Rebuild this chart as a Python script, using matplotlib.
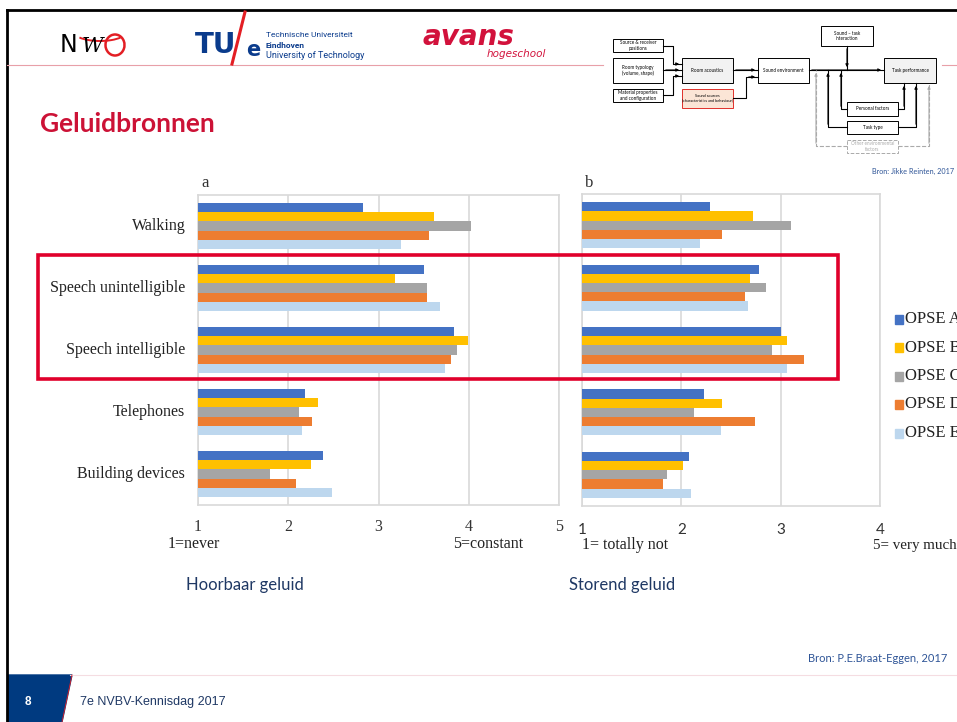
import matplotlib
matplotlib.use('Agg')
import matplotlib.pyplot as plt
from matplotlib.patches import Rectangle, Polygon, Arc
import numpy as np

W, H = 957, 722

# data
categories = ['Walking', 'Speech unintelligible', 'Speech intelligible',
              'Telephones', 'Building devices']
series = ['OPSE A', 'OPSE B', 'OPSE C', 'OPSE D', 'OPSE E']
colors = ['#4472C4', '#FFC000', '#A5A5A5', '#ED7D31', '#BDD7EE']

# a: hoorbaar geluid (1=never .. 5=constant)
hear_a = [2.83, 3.50, 3.84, 2.19, 2.38]
hear_b = [3.62, 3.18, 3.99, 2.33, 2.25]
hear_c = [4.03, 3.54, 3.87, 2.12, 1.80]
hear_d = [3.56, 3.54, 3.80, 2.26, 2.09]
hear_e = [3.25, 3.68, 3.74, 2.15, 2.49]

# b: storend geluid (1=totally not .. 5=very much)
dist_a = [2.29, 2.78, 3.00, 2.23, 2.08]
dist_b = [2.72, 2.69, 3.06, 2.41, 2.02]
dist_c = [3.10, 2.85, 2.91, 2.13, 1.86]
dist_d = [2.41, 2.64, 3.23, 2.74, 1.82]
dist_e = [2.19, 2.67, 3.06, 2.40, 2.10]

serif = 'Liberation Serif'
sans = 'Lato'
red = '#CC1236'
navy = '#1F3864'

fig = plt.figure(figsize=(W / 100, H / 100), dpi=100)

# overlay axes in pixel coordinates for the slide furniture (on top of charts)
bg = fig.add_axes([0, 0, 1, 1])
bg.set_xlim(0, W)
bg.set_ylim(H, 0)
bg.axis('off')
bg.set_zorder(10)


def px_axes(x0, y0, x1, y1):
    return fig.add_axes([x0 / W, 1 - y1 / H, (x1 - x0) / W, (y1 - y0) / H])


def bar_chart(ax, vals, xmax):
    y = np.arange(len(categories))
    bh = 0.147
    for i, v in enumerate(vals):
        ax.barh(y + (i - 2) * bh, np.array(v) - 1, left=1, height=bh,
                color=colors[i], edgecolor='none', zorder=3)
    ax.set_xlim(1, xmax)
    ax.set_ylim(len(categories) - 0.5, -0.5)
    ax.set_yticks([])
    ax.set_xticks(range(1, xmax + 1))
    ax.grid(axis='x', color='#D9D9D9', lw=1.2, zorder=0)
    for s in ax.spines.values():
        s.set_color('#D9D9D9')
        s.set_linewidth(1.2)
    ax.tick_params(length=0, pad=10)


axa = px_axes(198, 195, 559, 505)
bar_chart(axa, [hear_a, hear_b, hear_c, hear_d, hear_e], 5)
for lab in axa.get_xticklabels():
    lab.set_fontfamily(serif)
    lab.set_fontsize(11.5)
    lab.set_color('#333333')
for i, c in enumerate(categories):
    axa.text(-0.035, i, c, transform=axa.get_yaxis_transform(),
             ha='right', va='center', family=serif, fontsize=11.5, color='#222222')

axb = px_axes(582, 194, 880, 506)
bar_chart(axb, [dist_a, dist_b, dist_c, dist_d, dist_e], 4)
for lab in axb.get_xticklabels():
    lab.set_fontfamily(sans)
    lab.set_fontsize(11)
    lab.set_color('#333333')
axb.tick_params(pad=12)

# chart captions
bg.text(205, 183, 'a', family=serif, fontsize=12, ha='center', va='center', color='#333333')
bg.text(589, 183, 'b', family=serif, fontsize=12, ha='center', va='center', color='#333333')
bg.text(168, 544, '1=never', family=serif, fontsize=11.5, va='center', color='#222222')
bg.text(453, 544, '5=constant', family=serif, fontsize=11.5, va='center', color='#222222')
bg.text(582, 545, '1= totally not', family=serif, fontsize=11.5, va='center', color='#222222')
bg.text(873, 546, '5= very much', family=serif, fontsize=10.8, va='center', color='#222222')

# legend (cut at slide edge, as on the slide)
for i, s in enumerate(series):
    yy = 319 + i * 28.5
    bg.add_patch(Rectangle((895, yy - 4.5), 8, 9, color=colors[i]))
    bg.text(905, yy, s, family=serif, fontsize=12, va='center', color='#222222',
            clip_on=True)

# red highlight frame
bg.add_patch(Rectangle((38, 255), 800, 124, fill=False, ec='#E0002B', lw=2.6, zorder=5))

# slide frame and header line
bg.plot([7, W], [10, 10], color='black', lw=2)
bg.plot([7, 7], [10, H], color='black', lw=2)
bg.plot([7, 603], [65, 65], color='#E8A0A8', lw=0.8)
bg.plot([942, W], [65, 65], color='#E8A0A8', lw=0.8)

# logos as text
bg.text(60, 45, 'N', family='DejaVu Sans', fontsize=17, va='center', color='black')
bg.text(82, 46, 'W', family='DejaVu Serif', style='italic', fontsize=15, va='center', color='black')
bg.add_patch(Arc((115, 45), 19, 21, color='#E31E24', lw=1.8))
bg.add_patch(Arc((100, 32), 52, 18, theta1=15, theta2=165, color='#E31E24', lw=1.4))
bg.text(195, 45, 'TU', family='DejaVu Sans', weight='bold', fontsize=20, va='center', color='#0A3B8C')
bg.plot([232, 245], [64, 12], color='#E31E24', lw=2.2)
bg.text(246, 50, 'e', family='DejaVu Sans', weight='bold', fontsize=15, va='center', color='#0A3B8C')
bg.text(266, 35, 'Technische Universiteit', family='Roboto', fontsize=6, va='center', color='#0A3B8C')
bg.text(266, 45, 'Eindhoven', family='Roboto', weight='bold', fontsize=6, va='center', color='#0A3B8C')
bg.text(266, 55, 'University of Technology', family='Roboto', fontsize=6.5, va='center', color='#0A3B8C')
bg.text(423, 37, 'avans', family='DejaVu Sans', weight='bold', style='italic', fontsize=20,
        va='center', color='#D2123C')
bg.text(487, 54, 'hogeschool', family='DejaVu Sans', style='italic', fontsize=7.5,
        va='center', color='#D2123C')

# title
bg.text(40, 124, 'Geluidbronnen', family=sans, weight='bold', fontsize=19, va='center', color=red)

# model diagram, top right
def box(x0, y0, x1, y1, txt, fc='white', ec='black', ls='-', tc='black', fs=3.3):
    bg.add_patch(Rectangle((x0, y0), x1 - x0, y1 - y0, fc=fc, ec=ec, lw=0.7, ls=ls, zorder=6))
    bg.text((x0 + x1) / 2, (y0 + y1) / 2, txt, ha='center', va='center', fontsize=fs,
            color=tc, family=sans, zorder=7, linespacing=1.1)


def arrow(xs, ys, ls='-', c='black'):
    bg.plot(xs, ys, color=c, lw=0.8, ls=ls, zorder=6)
    bg.annotate('', xy=(xs[-1], ys[-1]), xytext=(xs[-2], ys[-2]),
                arrowprops=dict(arrowstyle='-|>', color=c, lw=0.8, mutation_scale=4), zorder=6)


box(613, 39, 663, 52, 'Source & receiver\npositions')
box(613, 58, 663, 83, 'Room typology\n(volume, shape)')
box(613, 89, 663, 102, 'Material properties\nand configuration')
box(682, 58, 733, 83, 'Room acoustics', fc='#F2F2F2')
box(682, 89, 733, 108, 'Sound sources\n(characteristics and behaviour)', fc='#FBE5D6', ec='#E0302B', fs=2.8)
box(758, 58, 809, 83, 'Sound environment')
box(821, 26, 873, 46, 'Sound \u2013 task\ninteraction')
box(884, 58, 936, 83, 'Task performance', fc='#F2F2F2')
box(847, 102, 898, 116, 'Personal factors')
box(847, 121, 898, 134, 'Task type')
box(847, 140, 898, 153, 'Other environmental\nfactors', ec='#AAAAAA', ls='--', tc='#AAAAAA')

arrow([663, 673, 673, 682], [46, 46, 64, 64])
arrow([663, 682], [70, 70])
arrow([663, 673, 673, 682], [95, 95, 76, 76])
arrow([733, 758], [70, 70])
arrow([733, 746, 746, 758], [98, 98, 77, 77])
arrow([809, 884], [70, 70])
arrow([847, 847], [46, 70])
arrow([847, 841, 841], [109, 109, 70])
arrow([847, 828, 828], [127, 127, 70])
arrow([847, 816, 816], [146, 146, 70], ls='--', c='#AAAAAA')
arrow([898, 904, 904], [109, 109, 83])
arrow([898, 916, 916], [127, 127, 83])
arrow([898, 929, 929], [146, 146, 83], ls='--', c='#AAAAAA')

bg.text(872, 171, 'Bron: Jikke Reinten, 2017', family=sans, fontsize=5.2, va='center', color='#2F5597')

# sub captions and source
bg.text(245, 585, 'Hoorbaar geluid', family=sans, fontsize=12, ha='center', va='center', color=navy)
bg.text(622, 585, 'Storend geluid', family=sans, fontsize=12, ha='center', va='center', color=navy)
bg.text(808, 659, 'Bron: P.E.Braat-Eggen, 2017', family=sans, fontsize=8, va='center', color='#2F5597')

# footer
bg.plot([70, W], [675, 675], color='#F5DDE2', lw=0.8)
bg.add_patch(Polygon([(8, 675), (72, 675), (62, H), (8, H)], color='#003A80'))
bg.plot([72, 62], [675, H], color='#E31E24', lw=0.6)
bg.text(25, 702, '8', family='Liberation Sans', weight='bold', fontsize=8.5, va='center', color='white')
bg.text(80, 702, '7e NVBV-Kennisdag 2017', family='Liberation Sans', fontsize=9, va='center', color=navy)

fig.savefig('out.png', dpi=100)
